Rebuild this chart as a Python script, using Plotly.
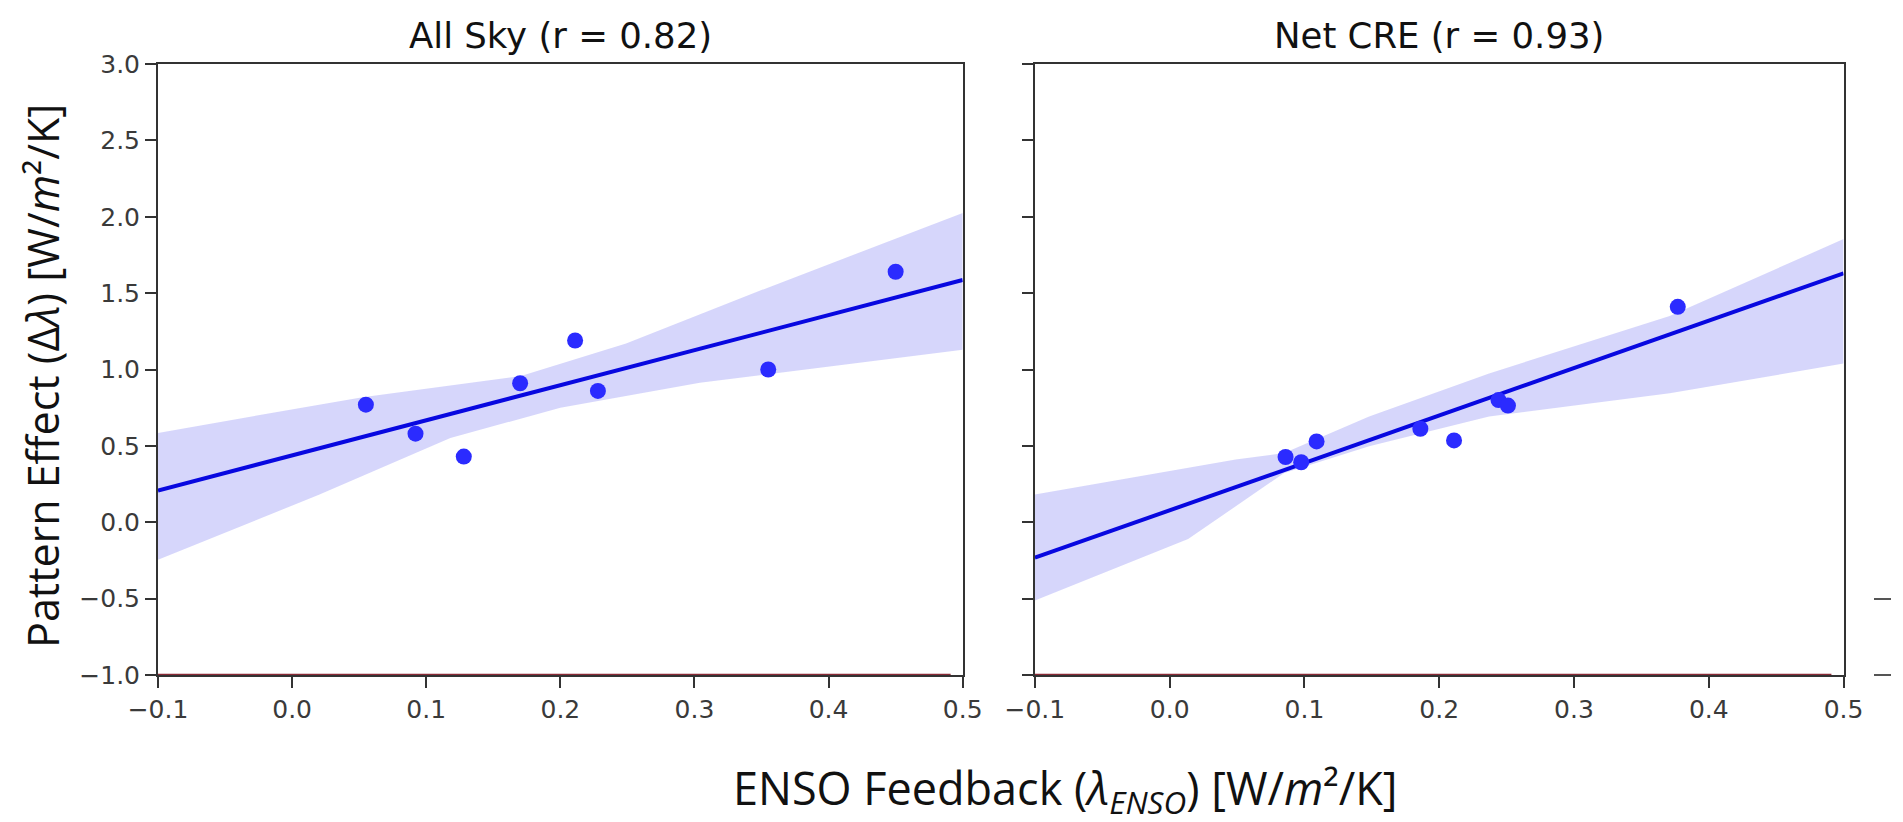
import numpy as np
import plotly.graph_objects as go

# axes
X_RANGE = [-0.1, 0.5]
Y_RANGE = [-1.0, 3.0]
X_TICKS = [-0.1, 0.0, 0.1, 0.2, 0.3, 0.4, 0.5]
Y_TICKS = [-1.0, -0.5, 0.0, 0.5, 1.0, 1.5, 2.0, 2.5, 3.0]

# All Sky panel
ALLSKY_X = [0.055, 0.092, 0.128, 0.170, 0.211, 0.228, 0.355, 0.450]
ALLSKY_Y = [0.77, 0.58, 0.43, 0.91, 1.19, 0.86, 1.00, 1.64]
ALLSKY_HI_X = [-0.1, 0.0525, 0.170, 0.249, 0.35, 0.5]
ALLSKY_HI_Y = [0.585, 0.819, 0.956, 1.17, 1.52, 2.025]
ALLSKY_LO_X = [-0.1, 0.02, 0.118, 0.2, 0.304, 0.5]
ALLSKY_LO_Y = [-0.246, 0.18, 0.552, 0.749, 0.913, 1.13]

# Net CRE panel
NETCRE_X = [0.086, 0.0976, 0.109, 0.186, 0.211, 0.244, 0.251, 0.377]
NETCRE_Y = [0.427, 0.393, 0.529, 0.612, 0.536, 0.800, 0.764, 1.41]
NETCRE_HI_X = [-0.1, 0.049, 0.085, 0.148, 0.237, 0.371, 0.5]
NETCRE_HI_Y = [0.182, 0.41, 0.453, 0.692, 0.974, 1.35, 1.854]
NETCRE_LO_X = [-0.1, 0.0137, 0.085, 0.148, 0.237, 0.371, 0.5]
NETCRE_LO_Y = [-0.512, -0.11, 0.323, 0.497, 0.692, 0.844, 1.039]

PANELS = [
    ("All Sky (r = 0.82)", ALLSKY_X, ALLSKY_Y, ALLSKY_HI_X, ALLSKY_HI_Y, ALLSKY_LO_X, ALLSKY_LO_Y),
    ("Net CRE (r = 0.93)", NETCRE_X, NETCRE_Y, NETCRE_HI_X, NETCRE_HI_Y, NETCRE_LO_X, NETCRE_LO_Y),
]

W, H = 1903, 822
ML, MT, MB = 150, 56, 155
PW = W - ML
DOMAINS = [[0.0, 814 / PW], [887 / PW, 1705 / PW]]

COLOR_DOT = "#2b2bff"
COLOR_LINE = "#0808e0"
COLOR_BAND = "rgba(60,60,235,0.21)"
COLOR_AXIS = "#333333"
COLOR_RED = "#8a2a36"
TICK_FONT = dict(family="DejaVu Sans", size=25, color="#3a3a3a")
TITLE_FONT = dict(family="DejaVu Sans", size=35.5, color="#111111")
LABEL_FONT = dict(family="Open Sans", size=43, color="#111111")
XLABEL_FONT = dict(family="Open Sans", size=45, color="#111111")

fig = go.Figure()

for i, (title, xs, ys, hx, hy, lx, ly) in enumerate(PANELS):
    xa = "x" if i == 0 else f"x{i + 1}"
    ya = "y" if i == 0 else f"y{i + 1}"
    fig.add_trace(go.Scatter(
        x=list(hx) + list(lx)[::-1], y=list(hy) + list(ly)[::-1],
        fill="toself", fillcolor=COLOR_BAND, line=dict(width=0),
        mode="lines", xaxis=xa, yaxis=ya, showlegend=False, hoverinfo="skip",
    ))
    slope, icpt = np.polyfit(xs, ys, 1)
    fx = np.array(X_RANGE)
    fig.add_trace(go.Scatter(
        x=fx, y=slope * fx + icpt, mode="lines",
        line=dict(color=COLOR_LINE, width=4), xaxis=xa, yaxis=ya, showlegend=False,
    ))
    fig.add_trace(go.Scatter(
        x=xs, y=ys, mode="markers",
        marker=dict(color=COLOR_DOT, size=16, line=dict(width=0)),
        xaxis=xa, yaxis=ya, showlegend=False,
    ))
    fig.add_shape(type="line", xref=f"{xa} domain", yref=ya, x0=0, x1=0.985, y0=-1, y1=-1,
                  line=dict(color=COLOR_RED, width=2.5), layer="above")
    d = DOMAINS[i]
    fig.add_annotation(text=title, xref="paper", yref="paper", x=(d[0] + d[1]) / 2, y=1.047,
                       showarrow=False, font=TITLE_FONT, xanchor="center", yanchor="middle")

axis_common = dict(showline=True, mirror=True, linecolor=COLOR_AXIS, linewidth=2,
                   ticks="outside", ticklen=11, tickwidth=1.8, tickcolor=COLOR_AXIS,
                   showgrid=False, zeroline=False, tickfont=TICK_FONT)

layout = dict(
    width=W, height=H,
    margin=dict(l=ML, r=0, t=MT, b=MB),
    plot_bgcolor="white", paper_bgcolor="white",
    showlegend=False,
)
for i in range(2):
    xk = "xaxis" if i == 0 else f"xaxis{i + 1}"
    yk = "yaxis" if i == 0 else f"yaxis{i + 1}"
    ya = "y" if i == 0 else f"y{i + 1}"
    xa = "x" if i == 0 else f"x{i + 1}"
    layout[xk] = dict(axis_common, domain=DOMAINS[i], range=X_RANGE, tickvals=X_TICKS,
                      tickformat=".1f", anchor=ya)
    layout[yk] = dict(axis_common, range=Y_RANGE, tickvals=Y_TICKS, tickformat=".1f",
                      anchor=xa, showticklabels=(i == 0))

# stub of a third panel cut off at the right edge
layout["yaxis3"] = dict(overlaying="y2", anchor="free", position=1.0, side="left",
                        range=Y_RANGE, tickvals=[-1.0, -0.5], ticks="outside", ticklen=17,
                        tickwidth=1.8, tickcolor="#555555", showticklabels=False,
                        showline=False, showgrid=False, zeroline=False)
fig.add_trace(go.Scatter(x=[None], y=[None], xaxis="x2", yaxis="y3", showlegend=False))

fig.update_layout(**layout)

fig.add_annotation(text="Pattern Effect (Δ<i>λ</i>) [W/<i>m</i>²/K]",
                   xref="paper", yref="paper", x=(33 - ML) / PW, y=0.49, textangle=-90,
                   showarrow=False, font=LABEL_FONT, xanchor="center", yanchor="middle")
fig.add_annotation(text="ENSO Feedback (<i>λ</i><sub><i>ENSO</i></sub>) [W/<i>m</i>²/K]",
                   xref="paper", yref="paper", x=(1068 - ML) / PW, y=-0.188,
                   showarrow=False, font=XLABEL_FONT, xanchor="center", yanchor="middle")

fig.write_html("out.html")
